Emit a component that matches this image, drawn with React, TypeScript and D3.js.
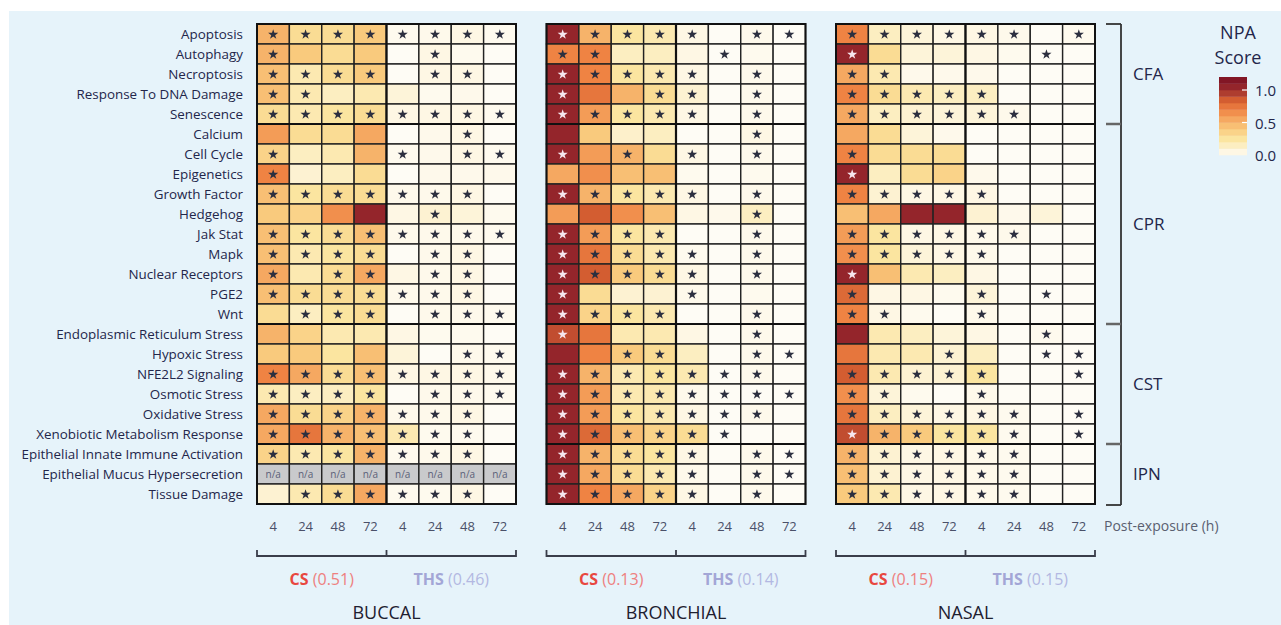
import React from 'react'
import * as d3 from 'd3'

const pathways = [
  'Apoptosis', 'Autophagy', 'Necroptosis', 'Response To DNA Damage', 'Senescence',
  'Calcium', 'Cell Cycle', 'Epigenetics', 'Growth Factor', 'Hedgehog', 'Jak Stat', 'Mapk',
  'Nuclear Receptors', 'PGE2', 'Wnt',
  'Endoplasmic Reticulum Stress', 'Hypoxic Stress', 'NFE2L2 Signaling', 'Osmotic Stress',
  'Oxidative Stress', 'Xenobiotic Metabolism Response',
  'Epithelial Innate Immune Activation', 'Epithelial Mucus Hypersecretion', 'Tissue Damage',
]

const timepoints = ['4', '24', '48', '72', '4', '24', '48', '72']

const families = [
  { name: 'CFA', from: 0, to: 5 },
  { name: 'CPR', from: 5, to: 15 },
  { name: 'CST', from: 15, to: 21 },
  { name: 'IPN', from: 21, to: 24 },
]

// NPA scores: 4 CS columns then 4 THS columns, null = n/a
const buccalScores = [
  [0.5, 0.3, 0.3, 0.4, 0.02, 0.03, 0.05, 0.02],
  [0.5, 0.4, 0.3, 0.4, 0, 0.05, 0.02, 0],
  [0.45, 0.2, 0.3, 0.4, 0, 0.05, 0.05, 0],
  [0.45, 0.2, 0.15, 0.2, 0.08, 0.02, 0.03, 0],
  [0.3, 0.2, 0.25, 0.3, 0.05, 0.05, 0.05, 0.02],
  [0.6, 0.3, 0.3, 0.55, 0, 0.03, 0.05, 0],
  [0.35, 0.15, 0.2, 0.5, 0.02, 0.03, 0.05, 0.02],
  [0.7, 0.1, 0.15, 0.3, 0, 0.03, 0.03, 0.03],
  [0.45, 0.25, 0.3, 0.3, 0.03, 0.03, 0.05, 0],
  [0.4, 0.35, 0.65, 1.05, 0.05, 0.1, 0.08, 0.02],
  [0.45, 0.25, 0.3, 0.45, 0.03, 0.03, 0.03, 0.02],
  [0.45, 0.2, 0.25, 0.3, 0, 0.03, 0.05, 0],
  [0.55, 0.2, 0.3, 0.55, 0.05, 0.03, 0.05, 0],
  [0.45, 0.3, 0.3, 0.3, 0.03, 0.03, 0.05, 0],
  [0.3, 0.15, 0.25, 0.3, 0, 0.03, 0.03, 0.02],
  [0.5, 0.35, 0.2, 0.2, 0.05, 0.02, 0.02, 0],
  [0.4, 0.4, 0.25, 0.45, 0.08, 0, 0.03, 0.02],
  [0.7, 0.55, 0.3, 0.45, 0.05, 0.05, 0.05, 0.03],
  [0.2, 0.15, 0.15, 0.25, 0, 0.03, 0.03, 0.02],
  [0.55, 0.3, 0.35, 0.5, 0.03, 0.03, 0.05, 0],
  [0.55, 0.75, 0.5, 0.45, 0.2, 0.02, 0.02, 0],
  [0.35, 0.2, 0.25, 0.5, 0.02, 0.03, 0.05, 0],
  [null, null, null, null, null, null, null, null],
  [0.1, 0.2, 0.3, 0.55, 0.02, 0.02, 0.05, 0],
]
const buccalStars = [
  '11111111', '10000100', '11110110', '11000000', '11111111',
  '00000010', '10001011', '10000000', '11111110', '00000100', '11111111', '11110110',
  '10110110', '11111110', '01110111',
  '00000000', '00000011', '11111111', '11110111', '11111110', '11111110',
  '11111110', '00000000', '01111110',
]

const bronchialScores = [
  [1.05, 0.5, 0.25, 0.2, 0.05, 0, 0.03, 0],
  [0.7, 0.7, 0.15, 0.15, 0.05, 0, 0.02, 0],
  [1.05, 0.7, 0.25, 0.2, 0.05, 0, 0.03, 0],
  [1.05, 0.75, 0.5, 0.3, 0.1, 0, 0.03, 0],
  [1.05, 0.6, 0.25, 0.2, 0.05, 0, 0.03, 0],
  [1.05, 0.4, 0.12, 0.15, 0, 0, 0.05, 0],
  [1.05, 0.6, 0.5, 0.3, 0.05, 0, 0.03, 0],
  [0.55, 0.65, 0.45, 0.45, 0.02, 0, 0.02, 0],
  [1.05, 0.5, 0.25, 0.2, 0.05, 0, 0.03, 0],
  [0.6, 0.85, 0.65, 0.45, 0.05, 0.03, 0.15, 0],
  [1.05, 0.6, 0.25, 0.2, 0, 0, 0.03, 0],
  [1.05, 0.75, 0.3, 0.2, 0.02, 0, 0.03, 0],
  [1.05, 0.85, 0.4, 0.3, 0.05, 0, 0.03, 0],
  [1.05, 0.3, 0.1, 0.1, 0.03, 0, 0.02, 0],
  [1.05, 0.35, 0.25, 0.2, 0, 0, 0.03, 0],
  [0.9, 0.75, 0.2, 0.2, 0.05, 0, 0.03, 0],
  [1.05, 0.7, 0.4, 0.3, 0.15, 0, 0.03, 0],
  [1.05, 0.5, 0.2, 0.25, 0.2, 0, 0.03, 0],
  [1.05, 0.6, 0.2, 0.2, 0.03, 0, 0, 0],
  [1.05, 0.6, 0.25, 0.2, 0.05, 0, 0.03, 0],
  [1.05, 0.8, 0.45, 0.35, 0.3, 0, 0, 0],
  [1.05, 0.5, 0.3, 0.25, 0.05, 0, 0.03, 0],
  [1.05, 0.55, 0.3, 0.2, 0.03, 0, 0.03, 0],
  [1.05, 0.7, 0.55, 0.35, 0.05, 0, 0.03, 0],
]
const bronchialStars = [
  '11111011', '11000100', '11111010', '10011010', '11111010',
  '00000010', '10101010', '00000000', '11111010', '00000010', '11110010', '11111010',
  '11111010', '10001000', '11110010',
  '10000010', '00110011', '11111110', '11111111', '11111110', '11111100',
  '11111011', '11111011', '11111010',
]

const nasalScores = [
  [0.7, 0.15, 0.08, 0.05, 0.05, 0.03, 0, 0.02],
  [1.05, 0.3, 0.08, 0.08, 0.05, 0.02, 0, 0],
  [0.55, 0.2, 0.03, 0.03, 0.03, 0, 0, 0],
  [0.7, 0.3, 0.2, 0.15, 0.15, 0, 0, 0],
  [0.55, 0.15, 0.1, 0.08, 0.08, 0.03, 0, 0],
  [0.55, 0.3, 0.08, 0.03, 0, 0, 0, 0],
  [0.7, 0.3, 0.3, 0.3, 0, 0, 0, 0],
  [1.05, 0.15, 0.3, 0.35, 0.03, 0, 0, 0],
  [0.7, 0.1, 0.05, 0.05, 0.05, 0, 0, 0],
  [0.45, 0.55, 1.05, 1.05, 0.1, 0.03, 0.08, 0],
  [0.6, 0.25, 0.05, 0.05, 0.03, 0.03, 0, 0],
  [0.65, 0.25, 0.08, 0.05, 0.03, 0, 0, 0],
  [1.05, 0.45, 0.2, 0.15, 0.05, 0, 0, 0],
  [0.8, 0.05, 0.05, 0.02, 0.08, 0, 0, 0],
  [0.7, 0.05, 0.02, 0, 0.03, 0, 0, 0],
  [1.05, 0.2, 0.15, 0.08, 0.05, 0, 0.02, 0],
  [0.75, 0.2, 0.2, 0.1, 0.15, 0, 0, 0],
  [0.85, 0.2, 0.1, 0.1, 0.25, 0, 0, 0],
  [0.65, 0.08, 0.02, 0, 0.03, 0, 0, 0],
  [0.75, 0.15, 0.08, 0.05, 0.05, 0.02, 0, 0],
  [0.9, 0.5, 0.4, 0.25, 0.25, 0.02, 0, 0],
  [0.5, 0.1, 0.05, 0.05, 0.03, 0.02, 0, 0],
  [0.45, 0.1, 0.05, 0.05, 0.03, 0.02, 0, 0],
  [0.4, 0.2, 0.05, 0.05, 0.03, 0.02, 0, 0],
]
const nasalStars = [
  '11111101', '10000010', '11000000', '11111000', '11111100',
  '00000000', '10000000', '10000000', '11111000', '00000000', '11111100', '11111000',
  '10000000', '10001010', '11001000',
  '00000010', '00010011', '11111001', '11001000', '11111101', '11111101',
  '11111100', '11111100', '11111100',
]

const tissues = [
  { name: 'BUCCAL', scores: buccalScores, stars: buccalStars, cs: '0.51', ths: '0.46' },
  { name: 'BRONCHIAL', scores: bronchialScores, stars: bronchialStars, cs: '0.13', ths: '0.14' },
  { name: 'NASAL', scores: nasalScores, stars: nasalStars, cs: '0.15', ths: '0.15' },
]

const legendTicks = [0, 0.5, 1.0]

const color = d3.scaleLinear<string>()
  .domain([0, 0.1, 0.25, 0.4, 0.55, 0.7, 0.85, 1.0, 1.2])
  .range(['#fefcf5', '#fdf2d2', '#fbe5a0', '#f9ca7d', '#f5a861', '#ef8343', '#d35d31', '#9c2d2e', '#7a0f22'])
  .clamp(true)

const font = 'Open Sans, sans-serif'
const ink = '#23264a'

export default function App() {
  const W = 1281, H = 625
  const top = 24, bottom = 504
  const gridW = 259
  const panelX = d3.scaleLinear().domain([0, 1]).range([257, 546.5])

  const rowY = d3.scaleBand<number>().domain(d3.range(pathways.length)).range([top, bottom])
  const colX = d3.scaleBand<number>().domain(d3.range(timepoints.length)).range([0, gridW])
  const star = d3.symbol().type(d3.symbolStar).size(32)()

  const legendY = d3.scaleLinear().domain([0, 1.2]).range([155, 77])
  const bands = d3.range(0, 1.2, 0.1)

  const bx = 1121

  return (
    <svg width={W} height={H} style={{ position: 'absolute', left: 0, top: 0 }} fontFamily={font}>
      <rect x={9} y={11} width={W - 9} height={H - 11} fill="#e6f3fa" />

      {/* row labels */}
      {pathways.map((p, i) => (
        <text key={p} x={243} y={rowY(i)! + rowY.bandwidth() / 2} dy="0.35em" textAnchor="end"
          fontSize={13.4} fill={ink}>{p}</text>
      ))}

      {tissues.map((t, ti) => {
        const x0 = panelX(ti)
        const mid = x0 + gridW / 2
        return (
          <g key={t.name}>
            <g transform={`translate(${x0},0)`}>
              {t.scores.map((row, r) => row.map((v, c) => {
                const x = colX(c)!, y = rowY(r)!
                const cw = colX.bandwidth(), ch = rowY.bandwidth()
                const hasStar = t.stars[r][c] === '1'
                return (
                  <g key={`${r}-${c}`}>
                    <rect x={x} y={y} width={cw} height={ch}
                      fill={v == null ? '#c9cacc' : color(v)} stroke="#222" strokeWidth={1.4} />
                    {v == null && (
                      <text x={x + cw / 2} y={y + ch / 2} dy="0.35em" textAnchor="middle"
                        fontSize={10} fill="#5a6078">n/a</text>
                    )}
                    {v != null && hasStar && (
                      <path d={star} transform={`translate(${x + cw / 2},${y + ch / 2 + 0.5})`}
                        fill={v >= 0.88 ? '#f6e6ee' : '#2c2f3f'} />
                    )}
                  </g>
                )
              }))}
              {/* group separators */}
              {families.slice(1).map(f => (
                <line key={f.name} x1={0} x2={gridW} y1={rowY(f.from)!} y2={rowY(f.from)!}
                  stroke="#111" strokeWidth={2.2} />
              ))}
              <line x1={colX(4)!} x2={colX(4)!} y1={top} y2={bottom} stroke="#111" strokeWidth={2.2} />
              <rect x={0} y={top} width={gridW} height={bottom - top} fill="none" stroke="#111" strokeWidth={2} />

              {/* time labels */}
              {timepoints.map((tp, c) => (
                <text key={c} x={colX(c)! + colX.bandwidth() / 2} y={526} dy="0.35em" textAnchor="middle"
                  fontSize={13} fill="#4a5068">{tp}</text>
              ))}

              {/* exposure bracket */}
              <path d={`M0,550V556H${gridW}V550M${gridW / 2},550V556`} fill="none" stroke="#3a3d4a" strokeWidth={1.8} />
            </g>

            <text x={x0 + gridW / 4} y={579} dy="0.35em" textAnchor="middle" fontSize={16}>
              <tspan fill="#e8473f" fontWeight="bold">CS</tspan>
              <tspan fill="#ee8080">{` (${t.cs})`}</tspan>
            </text>
            <text x={x0 + (gridW * 3) / 4} y={579} dy="0.35em" textAnchor="middle" fontSize={16}>
              <tspan fill="#a3a6d6" fontWeight="bold">THS</tspan>
              <tspan fill="#b3b8e2">{` (${t.ths})`}</tspan>
            </text>
            <text x={mid} y={613} dy="0.35em" textAnchor="middle" fontSize={18} fill="#1e2030">{t.name}</text>
          </g>
        )
      })}

      <text x={1104} y={526} dy="0.35em" fontSize={14} fill="#5a5f70">Post-exposure (h)</text>

      {/* family bracket */}
      <line x1={bx} x2={bx} y1={top} y2={bottom + 1} stroke="#333" strokeWidth={1.8} />
      {[0, 5, 15, 21].map(i => (
        <line key={i} x1={bx - 15} x2={bx} y1={rowY(i)!} y2={rowY(i)!}
          stroke={i === 0 ? '#333' : '#666'} strokeWidth={i === 0 ? 1.8 : 2.5} />
      ))}
      <line x1={bx - 15} x2={bx} y1={bottom + 1} y2={bottom + 1} stroke="#333" strokeWidth={1.8} />
      {families.map(f => (
        <text key={f.name} x={1133} y={(rowY(f.from)! + rowY(f.to - 1)! + rowY.bandwidth()) / 2}
          dy="0.35em" fontSize={17} fill={ink}>{f.name}</text>
      ))}

      {/* legend */}
      <text x={1238} y={33} dy="0.35em" textAnchor="middle" fontSize={18} fill={ink}>NPA</text>
      <text x={1238} y={58} dy="0.35em" textAnchor="middle" fontSize={18} fill={ink}>Score</text>
      {bands.map(b => (
        <rect key={b} x={1219} y={legendY(b + 0.1)} width={28} height={legendY(b) - legendY(b + 0.1) + 0.3}
          fill={color(b + 0.05)} />
      ))}
      {legendTicks.map(v => (
        <g key={v}>
          {v > 0 && <line x1={1242} x2={1247} y1={legendY(v)} y2={legendY(v)} stroke="#fff" strokeWidth={1.2} />}
          <text x={1255} y={legendY(v) + 1} dy="0.35em" fontSize={15} fill={ink}>{d3.format('.1f')(v)}</text>
        </g>
      ))}
    </svg>
  )
}
